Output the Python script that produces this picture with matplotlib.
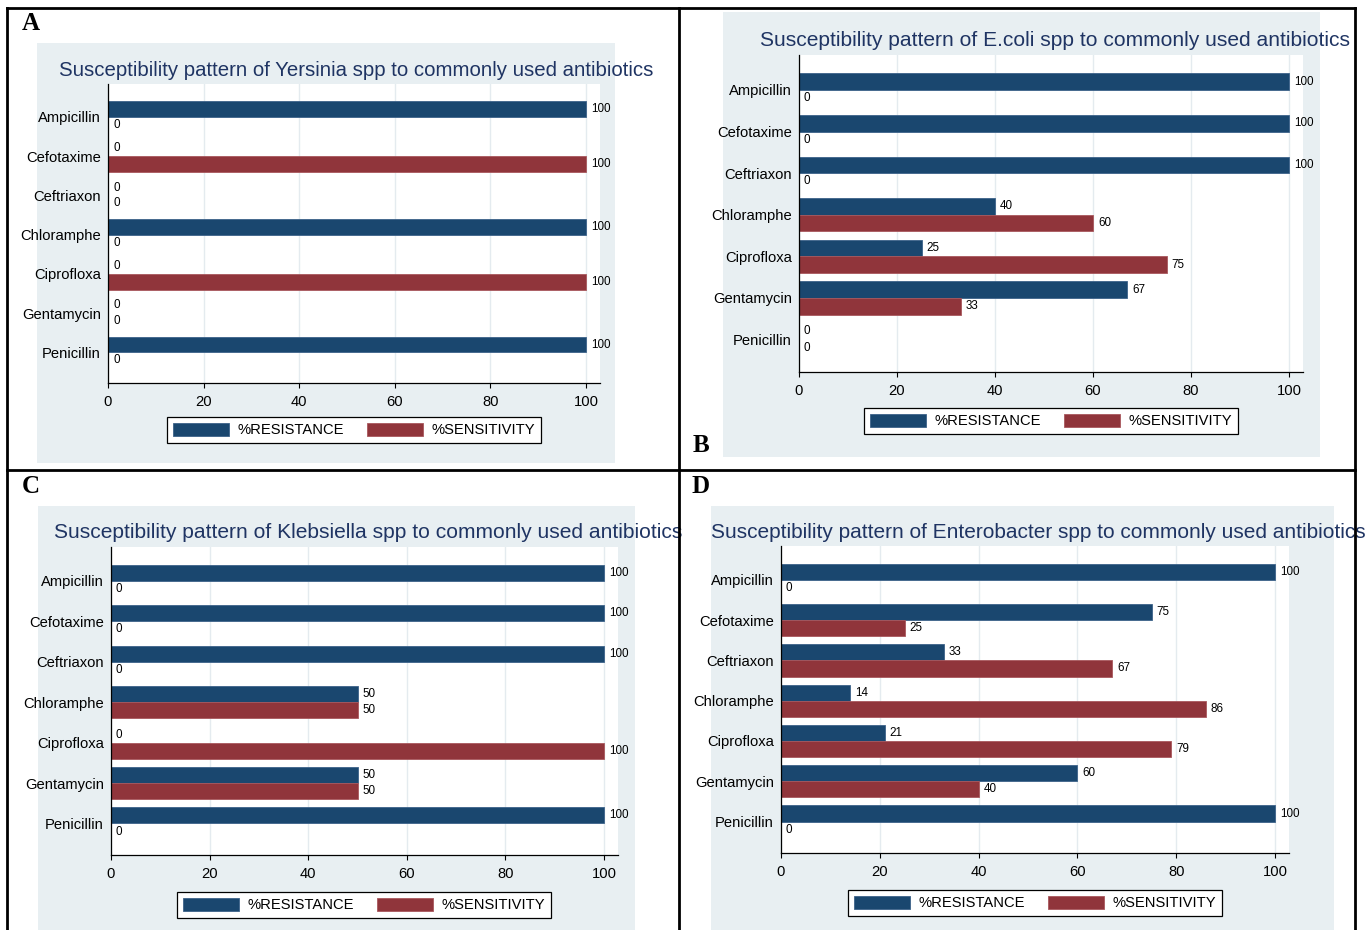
"""Four-panel horizontal bar chart: antibiotic susceptibility by organism."""
import matplotlib

matplotlib.use("Agg")
import matplotlib.pyplot as plt
import numpy as np
from matplotlib.lines import Line2D
from matplotlib.patches import Patch, Rectangle

W, H = 1372, 930

DRUGS = ["Ampicillin", "Cefotaxime", "Ceftriaxon", "Chloramphe",
         "Ciprofloxa", "Gentamycin", "Penicillin"]

YERSINIA_RES = [100, 0, 0, 100, 0, 0, 100]
YERSINIA_SENS = [0, 100, 0, 0, 100, 0, 0]

ECOLI_RES = [100, 100, 100, 40, 25, 67, 0]
ECOLI_SENS = [0, 0, 0, 60, 75, 33, 0]

KLEBSIELLA_RES = [100, 100, 100, 50, 0, 50, 100]
KLEBSIELLA_SENS = [0, 0, 0, 50, 100, 50, 0]

ENTEROBACTER_RES = [100, 75, 33, 14, 21, 60, 100]
ENTEROBACTER_SENS = [0, 25, 67, 86, 79, 40, 0]

X_TICKS = [0, 20, 40, 60, 80, 100]
LEGEND_LABELS = ["%RESISTANCE", "%SENSITIVITY"]

NAVY = "#1a476f"
MAROON = "#90353b"
PANEL_BG = "#e8eff2"
GRID = "#e4ebef"
TITLE_COLOR = "#1f3463"
FONT = "Liberation Sans"

# pixel layout of each panel (y measured from the top of the canvas)
PANELS = [
    dict(letter="A", species="Yersinia", res=YERSINIA_RES, sens=YERSINIA_SENS,
         letter_xy=(22, 24), bg=(37, 43, 615, 463), title_xy=(59, 70), title_size=14.7,
         ax=(108, 84, 600, 383), x100=586, legend_xy=(354, 430)),
    dict(letter="B", species="E.coli", res=ECOLI_RES, sens=ECOLI_SENS,
         letter_xy=(693, 445), bg=(723, 12, 1320, 457), title_xy=(760, 41), title_size=15.1,
         ax=(799, 55, 1303, 372), x100=1289, legend_xy=(1051, 421)),
    dict(letter="C", species="Klebsiella", res=KLEBSIELLA_RES, sens=KLEBSIELLA_SENS,
         letter_xy=(22, 486), bg=(38, 506, 635, 930), title_xy=(54, 533), title_size=15.1,
         ax=(111, 547, 618, 855), x100=604, legend_xy=(364, 905)),
    dict(letter="D", species="Enterobacter", res=ENTEROBACTER_RES, sens=ENTEROBACTER_SENS,
         letter_xy=(692, 486), bg=(711, 506, 1334, 930), title_xy=(711, 533), title_size=15.0,
         ax=(781, 546, 1289, 853), x100=1275, legend_xy=(1035, 903)),
]


def fx(x):
    return x / W


def fy(y):
    return 1 - y / H


def draw_panel(fig, p):
    x0, y0, x1, y1 = p["bg"]
    fig.add_artist(Rectangle((fx(x0), fy(y1)), (x1 - x0) / W, (y1 - y0) / H,
                             transform=fig.transFigure, facecolor=PANEL_BG,
                             edgecolor="none", zorder=-2))

    l, t, r, b = p["ax"]
    ax = fig.add_axes([fx(l), fy(b), (r - l) / W, (b - t) / H])
    ax.set_facecolor("white")

    y = np.arange(len(DRUGS))
    bh = 0.4
    res = ax.barh(y - bh / 2, p["res"], height=bh, color=NAVY,
                  edgecolor="#3d6289", linewidth=0.6)
    sens = ax.barh(y + bh / 2, p["sens"], height=bh, color=MAROON,
                   edgecolor="#a8585d", linewidth=0.6)
    for cont in (res, sens):
        ax.bar_label(cont, fmt="%g", padding=3.6, fontsize=8.4, family=FONT)

    ax.set_xlim(0, 100 * (r - l) / (p["x100"] - l))
    ax.set_ylim(6.78, -0.84)
    ax.set_xticks(X_TICKS)
    ax.set_yticks(y, DRUGS)
    ax.tick_params(axis="y", length=0, pad=5, labelsize=10.6)
    ax.tick_params(axis="x", length=3.6, width=0.8, pad=5, labelsize=10.6)
    for lab in ax.get_xticklabels() + ax.get_yticklabels():
        lab.set_family(FONT)

    ax.xaxis.grid(True, color=GRID, lw=1.0)
    ax.set_axisbelow(True)
    for side in ("top", "right"):
        ax.spines[side].set_visible(False)
    for side in ("left", "bottom"):
        ax.spines[side].set_linewidth(0.9)

    tx, ty = p["title_xy"]
    fig.text(fx(tx), fy(ty),
             f"Susceptibility pattern of {p['species']} spp to commonly used antibiotics",
             ha="left", va="center", fontsize=p["title_size"], color=TITLE_COLOR,
             family=FONT)

    handles = [Patch(facecolor=NAVY, edgecolor="#3d6289", lw=0.6),
               Patch(facecolor=MAROON, edgecolor="#a8585d", lw=0.6)]
    lx, ly = p["legend_xy"]
    leg = fig.legend(handles, LEGEND_LABELS, loc="center",
                     bbox_to_anchor=(fx(lx), fy(ly)), ncol=2,
                     prop={"family": FONT, "size": 10.6},
                     handlelength=3.8, handleheight=1.0, handletextpad=0.55,
                     columnspacing=1.6, borderpad=0.4, fancybox=False,
                     framealpha=1, edgecolor="black")
    leg.get_frame().set_linewidth(0.9)

    lxp, lyp = p["letter_xy"]
    fig.text(fx(lxp), fy(lyp), p["letter"], ha="left", va="center",
             fontsize=18, weight="bold", family="Liberation Serif")


def draw_frame(fig):
    kw = dict(transform=fig.transFigure, color="black", lw=2.0, zorder=5)
    fig.add_artist(Line2D([fx(7), fx(1355)], [fy(8), fy(8)], **kw))
    fig.add_artist(Line2D([fx(7), fx(1355)], [fy(470), fy(470)], **kw))
    for x in (7, 679, 1355):
        fig.add_artist(Line2D([fx(x), fx(x)], [fy(8), fy(930)], **kw))


def main():
    fig = plt.figure(figsize=(W / 100, H / 100), dpi=100)
    fig.patch.set_facecolor("white")
    for p in PANELS:
        draw_panel(fig, p)
    draw_frame(fig)
    fig.savefig("out.png", dpi=100)
    plt.close(fig)


if __name__ == "__main__":
    main()
